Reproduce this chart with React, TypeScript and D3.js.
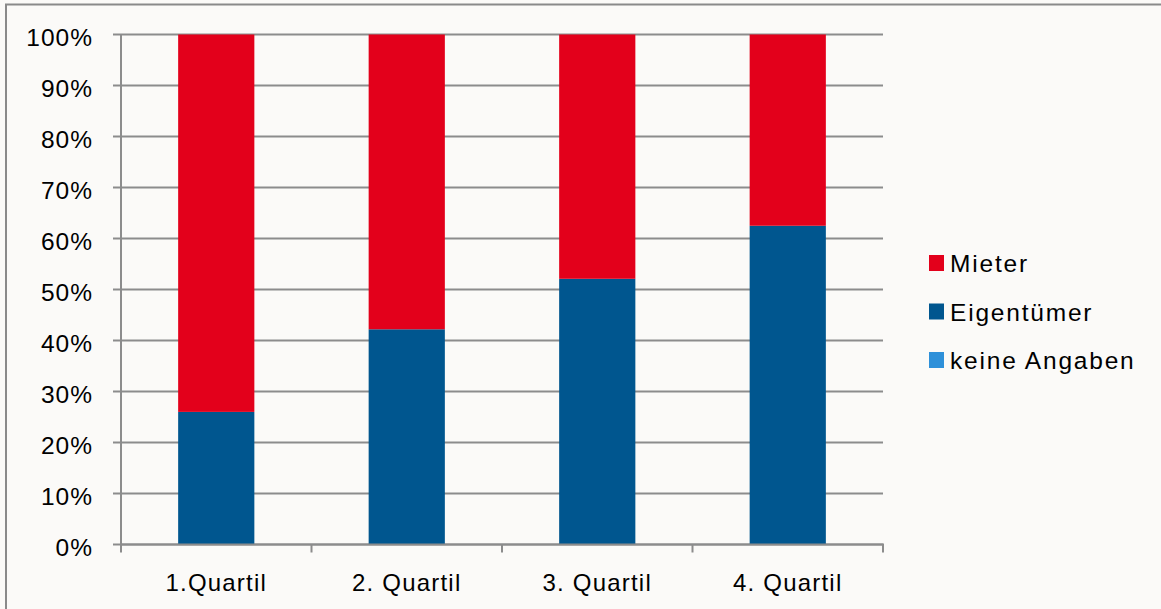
import React from "react";
import * as d3 from "d3";

const categories = ["1.Quartil", "2. Quartil", "3. Quartil", "4. Quartil"];
const eigentuemer = [26, 42.2, 52.1, 62.5];
const mieter = [74, 57.8, 47.9, 37.5];
const keineAngaben = [0, 0, 0, 0];
const yTicks = [0, 10, 20, 30, 40, 50, 60, 70, 80, 90, 100];

const seriesNames = ["Eigentümer", "Mieter", "keine Angaben"];
const colors: Record<string, string> = {
  "Mieter": "#e3001b",
  "Eigentümer": "#00568f",
  "keine Angaben": "#2e90d9",
};
const legendOrder = ["Mieter", "Eigentümer", "keine Angaben"];

export default function App() {
  const W = 1161, H = 609;
  const left = 121, right = 883, top = 34.5, bottom = 544.5;
  const x = d3.scaleBand<string>().domain(categories).range([left, right]).paddingInner(0.6).paddingOuter(0.3);
  const xb = d3.scaleBand<string>().domain(categories).range([left, right]);
  const y = d3.scaleLinear().domain([0, 100]).range([bottom, top]);

  const rows = categories.map((c, i) => ({
    cat: c,
    "Eigentümer": eigentuemer[i],
    "Mieter": mieter[i],
    "keine Angaben": keineAngaben[i],
  }));
  const stack = d3.stack<any>().keys(seriesNames)(rows);
  const font = "'Liberation Sans', Arial, sans-serif";

  return (
    <svg width={W} height={H} style={{ position: "absolute", left: 0, top: 0, background: "#fbfaf8" }}>
      <rect x={0} y={0} width={W} height={H} fill="#fbfaf8" />
      <rect x={6} y={4.5} width={W + 10} height={H + 10} fill="none" stroke="#8a8a8a" strokeWidth={2} />
      {yTicks.map((t) => (
        <g key={t}>
          <line x1={113} x2={right} y1={y(t)} y2={y(t)} stroke="#8c8c8c" strokeWidth={2} />
          <text x={93} y={y(t) + 11} textAnchor="end" fontFamily={font} fontSize={24.5} letterSpacing={1} fill="#000">
            {t}%
          </text>
        </g>
      ))}
      <line x1={left} x2={left} y1={top} y2={bottom} stroke="#8c8c8c" strokeWidth={2} />
      {stack.map((s) =>
        s.map((d, i) => (
          <rect
            key={s.key + i}
            x={x(categories[i])!}
            width={x.bandwidth()}
            y={y(d[1])}
            height={Math.max(0, y(d[0]) - y(d[1]))}
            fill={colors[s.key]}
          />
        ))
      )}
      <line x1={left - 1} x2={right + 1} y1={bottom} y2={bottom} stroke="#8c8c8c" strokeWidth={2} />
      {[...categories.map((c) => xb(c)!), right].map((v, i) => (
        <line key={i} x1={v} x2={v} y1={bottom} y2={bottom + 8} stroke="#8c8c8c" strokeWidth={2} />
      ))}
      {categories.map((c) => (
        <text key={c} x={xb(c)! + xb.bandwidth() / 2} y={591} textAnchor="middle" fontFamily={font} fontSize={24} letterSpacing={1.2} fill="#000">
          {c}
        </text>
      ))}
      {legendOrder.map((n, i) => (
        <g key={n}>
          <rect x={929} y={255 + i * 48.5} width={15} height={16} fill={colors[n]} />
          <text x={950} y={272 + i * 48.5} fontFamily={font} fontSize={24.5} letterSpacing={1.8} fill="#000">
            {n}
          </text>
        </g>
      ))}
    </svg>
  );
}
